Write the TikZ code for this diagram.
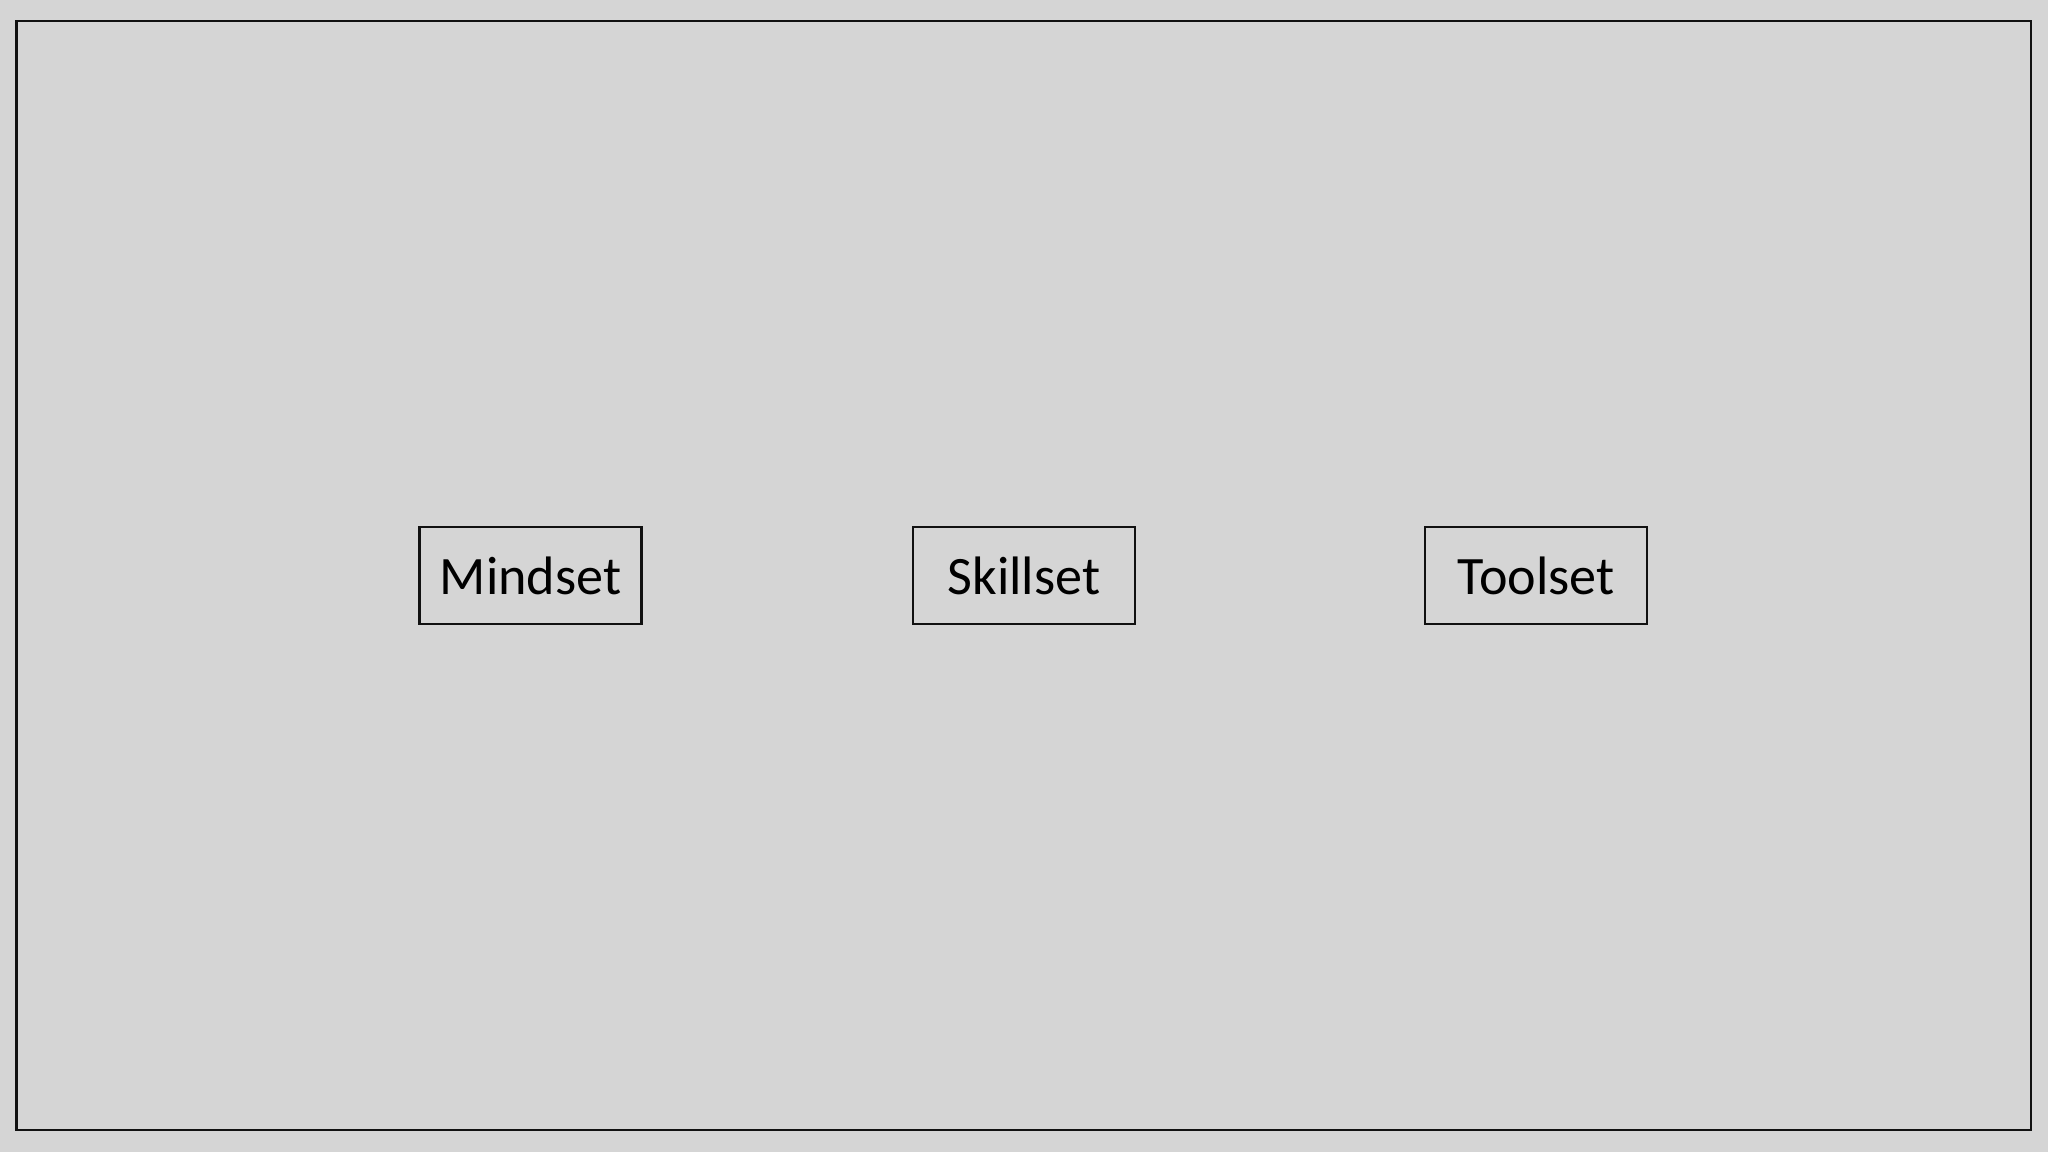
\documentclass[tikz,border=0pt]{standalone}
\usepackage{fontspec}
\setmainfont{Carlito}
\usepackage{xcolor}
\usepackage{tikz}
\definecolor{bg}{HTML}{D5D5D5}
\definecolor{ink}{HTML}{111111}
\tikzset{
  frame/.style={draw=ink, line width=0.75pt},
  setbox/.style={draw=ink, line width=0.6pt, minimum width=2.22cm, minimum height=0.97cm, inner sep=0pt, font=\fontsize{15.4}{18}\selectfont, text=black},
}
\begin{document}
\begin{tikzpicture}
  \fill[bg] (0,0) rectangle (20.48,11.52);
  \useasboundingbox (0,0) rectangle (20.48,11.52);
  \draw[frame] (0.165,0.22) rectangle (20.31,11.31);
  \foreach \X/\x in {Mindset/5.305,Skillset/10.24,Toolset/15.36}
    \node[setbox] (\X) at (\x,5.765) {\X};
\end{tikzpicture}
\end{document}
